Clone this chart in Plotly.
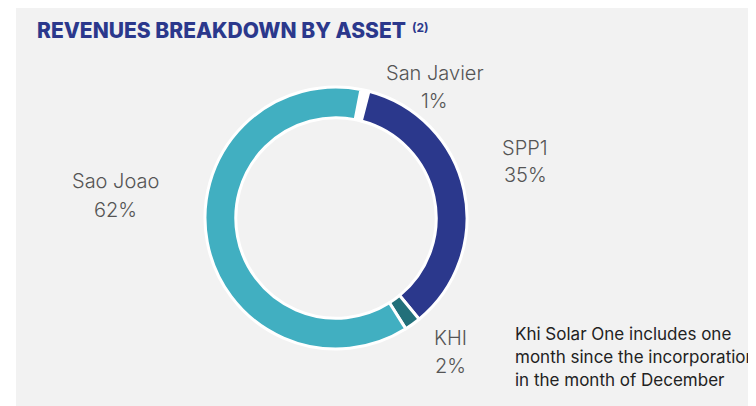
import plotly.graph_objects as go

# Data
assets = ["San Javier", "SPP1", "KHI", "Sao Joao"]
shares = [1, 35, 2, 62]
share_labels = ["1%", "35%", "2%", "62%"]
colors = ["#ffffff", "#2b388c", "#22707a", "#41afc1"]

title_text = "REVENUES BREAKDOWN BY ASSET"
note_lines = ["Khi Solar One includes one",
              "month since the incorporation",
              "in the month of December"]

W, H = 756, 406
OFF = 8  # page body margin offset
cx, cy, r = 336 - OFF, 218 - OFF, 131

fig = go.Figure()
fig.add_trace(go.Pie(
    labels=assets, values=shares, sort=False, direction="clockwise",
    rotation=11, hole=0.765, textinfo="none", hoverinfo="label+percent",
    marker=dict(colors=colors, line=dict(color="#ffffff", width=3)),
    domain=dict(x=[(cx - r) / W, (cx + r) / W],
                y=[(H - cy - r) / H, (H - cy + r) / H]),
    showlegend=False,
))

label_pos = {"San Javier": (435, 73, 101), "SPP1": (525, 148, 175),
             "KHI": (450, 338, 366), "Sao Joao": (115, 181, 210)}
annotations = []
for name, pct in zip(assets, share_labels):
    x, y1, y2 = label_pos[name]
    for txt, yy in ((name, y1), (pct, y2)):
        annotations.append(dict(
            x=(x - OFF) / W, y=1 - (yy - OFF) / H, xref="paper", yref="paper",
            text=txt, showarrow=False, xanchor="center", yanchor="middle",
            font=dict(family="Inter", size=20, weight=300, color="#555555")))

annotations.append(dict(
    x=(35 - OFF) / W, y=1 - (31 - OFF) / H, xref="paper", yref="paper",
    text=title_text, showarrow=False, xanchor="left", yanchor="middle",
    font=dict(family="Inter", size=21, weight=800, color="#2b388c")))
annotations.append(dict(
    x=(410 - OFF) / W, y=1 - (27 - OFF) / H, xref="paper", yref="paper",
    text="(2)", showarrow=False, xanchor="left", yanchor="middle",
    font=dict(family="Inter", size=12, weight=700, color="#2b388c")))

for i, line in enumerate(note_lines):
    annotations.append(dict(
        x=(513 - OFF) / W, y=1 - (334 + 23 * i - OFF) / H,
        xref="paper", yref="paper",
        text=line, showarrow=False, xanchor="left", yanchor="middle",
        font=dict(family="Inter", size=17, color="#222222")))

fig.update_layout(
    width=W, height=H, margin=dict(l=0, r=0, t=0, b=0),
    paper_bgcolor="#ffffff", plot_bgcolor="#ffffff",
    shapes=[dict(type="rect", xref="paper", yref="paper",
                 x0=(16 - OFF) / W, x1=1.01, y0=-0.01, y1=1.01,
                 fillcolor="#f2f2f2", line=dict(width=0), layer="below")],
    annotations=annotations,
)

fig.write_html("out.html")
